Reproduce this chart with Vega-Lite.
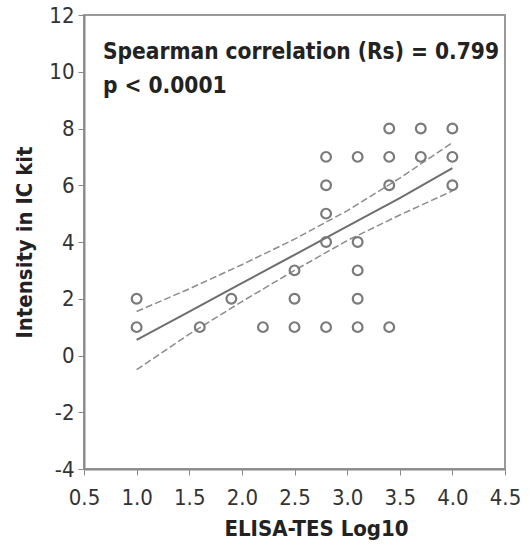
{
  "$schema": "https://vega.github.io/schema/vega-lite/v6.json",
  "width": 421,
  "height": 454,
  "autosize": "none",
  "padding": {"left": 84, "top": 15, "right": 25, "bottom": 82},
  "background": "white",
  "config": {
    "font": "DejaVu Sans Condensed, Liberation Sans, sans-serif",
    "view": {"stroke": "#9a9a9a", "strokeWidth": 2},
    "axis": {
      "grid": false,
      "domainColor": "#8a8a8a",
      "domainWidth": 2,
      "tickColor": "#8a8a8a",
      "tickSize": 6,
      "labelFlush": false,
      "labelOverlap": false,
      "labelFont": "DejaVu Sans Condensed, Liberation Sans, sans-serif",
      "labelFontSize": 22,
      "labelColor": "#333333",
      "titleFont": "DejaVu Sans Condensed, Liberation Sans, sans-serif",
      "titleFontSize": 22,
      "titleFontWeight": "bold",
      "titleColor": "#222222"
    }
  },
  "datasets": {
    "points": [
      {"elisa": 1.0, "intensity": 2},
      {"elisa": 1.0, "intensity": 1},
      {"elisa": 1.6, "intensity": 1},
      {"elisa": 1.9, "intensity": 2},
      {"elisa": 2.2, "intensity": 1},
      {"elisa": 2.5, "intensity": 1},
      {"elisa": 2.5, "intensity": 2},
      {"elisa": 2.5, "intensity": 3},
      {"elisa": 2.8, "intensity": 1},
      {"elisa": 2.8, "intensity": 4},
      {"elisa": 2.8, "intensity": 5},
      {"elisa": 2.8, "intensity": 6},
      {"elisa": 2.8, "intensity": 7},
      {"elisa": 3.1, "intensity": 1},
      {"elisa": 3.1, "intensity": 2},
      {"elisa": 3.1, "intensity": 3},
      {"elisa": 3.1, "intensity": 4},
      {"elisa": 3.1, "intensity": 7},
      {"elisa": 3.4, "intensity": 1},
      {"elisa": 3.4, "intensity": 6},
      {"elisa": 3.4, "intensity": 7},
      {"elisa": 3.4, "intensity": 8},
      {"elisa": 3.7, "intensity": 7},
      {"elisa": 3.7, "intensity": 8},
      {"elisa": 4.0, "intensity": 6},
      {"elisa": 4.0, "intensity": 7},
      {"elisa": 4.0, "intensity": 8}
    ],
    "fit": [
      {"elisa": 1.0, "fit": 0.55, "upper": 1.55, "lower": -0.5},
      {"elisa": 1.5, "fit": 1.55, "upper": 2.35, "lower": 0.75},
      {"elisa": 2.0, "fit": 2.55, "upper": 3.2, "lower": 1.9},
      {"elisa": 2.5, "fit": 3.55, "upper": 4.1, "lower": 3.0},
      {"elisa": 3.0, "fit": 4.55, "upper": 5.1, "lower": 4.05},
      {"elisa": 3.5, "fit": 5.55, "upper": 6.25, "lower": 4.95},
      {"elisa": 4.0, "fit": 6.6, "upper": 7.5, "lower": 5.8}
    ],
    "notes": [
      {"elisa": 0.68, "intensity": 10.45, "label": "Spearman correlation (Rs) = 0.799"},
      {"elisa": 0.68, "intensity": 9.25, "label": "p < 0.0001"}
    ]
  },
  "layer": [
    {
      "data": {"name": "fit"},
      "mark": {"type": "line", "color": "#8c8c8c", "strokeWidth": 1.5, "strokeDash": [7, 3]},
      "encoding": {
        "x": {"field": "elisa", "type": "quantitative"},
        "y": {"field": "upper", "type": "quantitative"}
      }
    },
    {
      "data": {"name": "fit"},
      "mark": {"type": "line", "color": "#8c8c8c", "strokeWidth": 1.5, "strokeDash": [7, 3]},
      "encoding": {
        "x": {"field": "elisa", "type": "quantitative"},
        "y": {"field": "lower", "type": "quantitative"}
      }
    },
    {
      "data": {"name": "fit"},
      "mark": {"type": "line", "color": "#6e6e6e", "strokeWidth": 2},
      "encoding": {
        "x": {"field": "elisa", "type": "quantitative"},
        "y": {"field": "fit", "type": "quantitative"}
      }
    },
    {
      "data": {"name": "points"},
      "mark": {"type": "point", "shape": "circle", "filled": false, "size": 95, "stroke": "#7a7a7a", "strokeWidth": 2.2, "opacity": 1},
      "encoding": {
        "x": {
          "field": "elisa", "type": "quantitative",
          "scale": {"domain": [0.5, 4.5], "nice": false, "zero": false},
          "axis": {"values": [0.5, 1.0, 1.5, 2.0, 2.5, 3.0, 3.5, 4.0, 4.5], "format": ".1f", "title": "ELISA-TES Log10", "labelPadding": 12, "labelDx": 5, "titlePadding": 10, "titleX": 232}
        },
        "y": {
          "field": "intensity", "type": "quantitative",
          "scale": {"domain": [-4, 12], "nice": false, "zero": false},
          "axis": {"values": [-4, -2, 0, 2, 4, 6, 8, 10, 12], "labelExpr": "datum.value < 0 ? '-' + abs(datum.value) : '' + datum.value", "title": "Intensity in IC kit", "labelPadding": 4, "titlePadding": 12}
        }
      }
    },
    {
      "data": {"name": "notes"},
      "mark": {"type": "text", "align": "left", "baseline": "alphabetic", "font": "DejaVu Sans Condensed, Liberation Sans, sans-serif", "fontSize": 22.5, "fontWeight": "bold", "color": "#222222"},
      "encoding": {
        "x": {"field": "elisa", "type": "quantitative"},
        "y": {"field": "intensity", "type": "quantitative"},
        "text": {"field": "label"}
      }
    }
  ]
}
